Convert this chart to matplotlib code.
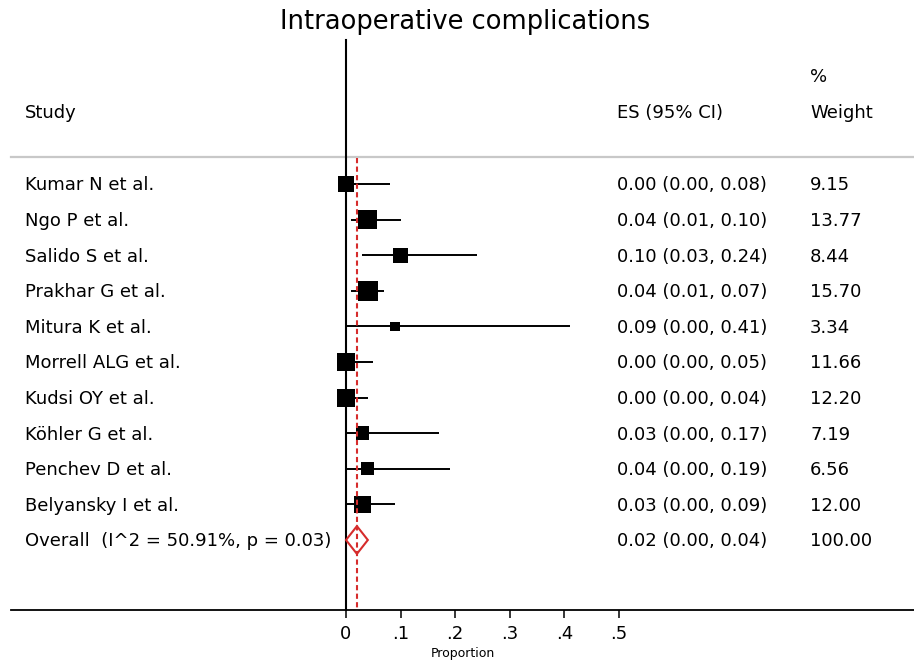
import numpy as np
import matplotlib
matplotlib.use('Agg')
import matplotlib.pyplot as plt
from matplotlib.patches import Polygon

studies = ['Kumar N et al.', 'Ngo P et al.', 'Salido S et al.', 'Prakhar G et al.',
           'Mitura K et al.', 'Morrell ALG et al.', 'Kudsi OY et al.', 'Köhler G et al.',
           'Penchev D et al.', 'Belyansky I et al.']
es = [0.00, 0.04, 0.10, 0.04, 0.09, 0.00, 0.00, 0.03, 0.04, 0.03]
ci_low = [0.00, 0.01, 0.03, 0.01, 0.00, 0.00, 0.00, 0.00, 0.00, 0.00]
ci_high = [0.08, 0.10, 0.24, 0.07, 0.41, 0.05, 0.04, 0.17, 0.19, 0.09]
weights = [9.15, 13.77, 8.44, 15.70, 3.34, 11.66, 12.20, 7.19, 6.56, 12.00]

overall_label = 'Overall  (I^2 = 50.91%, p = 0.03)'
overall_es, overall_low, overall_high, overall_weight = 0.02, 0.00, 0.04, 100.00

xticks = [0, 0.1, 0.2, 0.3, 0.4, 0.5]
xtick_labels = ['0', '.1', '.2', '.3', '.4', '.5']

red = '#d62c2c'
fs = 13

fig = plt.figure(figsize=(9.14, 6.63), dpi=100)
ax = fig.add_axes([0, 0, 1, 1])
ax.set_xlim(-346 / 546, (914 - 346) / 546)
ax.set_ylim((663 - 184) / 35.6, -184 / 35.6)
ax.patch.set_visible(False)

rows = np.arange(len(studies))
overall_row = len(studies)
bottom_row = (610 - 184) / 35.6
header_row = (157 - 184) / 35.6

for s in ['top', 'left', 'right']:
    ax.spines[s].set_visible(False)
ax.spines['bottom'].set_position(('data', bottom_row))
ax.spines['bottom'].set_bounds(-0.613, 1.04)
ax.spines['bottom'].set_linewidth(1.3)
ax.set_yticks([])
ax.set_xticks(xticks, xtick_labels)
ax.tick_params(axis='x', direction='out', length=6, width=1.1, pad=5, labelsize=13)

# header separator
ax.plot([-0.613, 1.04], [header_row, header_row], color='#c8c8c8', lw=1.6)

# null line and overall line
ax.plot([0, 0], [(40 - 184) / 35.6, bottom_row], color='black', lw=1.5)
ax.plot([overall_es, overall_es], [header_row + 0.03, bottom_row], color=red, lw=1.5,
        dashes=(2.5, 1.6), zorder=4)

# study CIs and boxes
ax.hlines(rows, ci_low, ci_high, color='black', lw=1.4)
side_pt = 5.12 * np.sqrt(weights) * 0.72
ax.scatter(es, rows, s=side_pt ** 2, marker='s', color='black', linewidths=0, zorder=3)

# overall diamond
h = 0.39
ax.add_patch(Polygon([[overall_low, overall_row], [overall_es, overall_row - h],
                      [overall_high, overall_row], [overall_es, overall_row + h]],
                     closed=True, facecolor='none', edgecolor=red, lw=1.5, zorder=5))

# text columns
tr = ax.get_yaxis_transform()
x_study, x_es, x_w = 25 / 914, 617 / 914, 810 / 914
hdr_row = (113 - 184) / 35.6
ax.text(x_study, hdr_row, 'Study', transform=tr, fontsize=fs, va='center')
ax.text(x_es, hdr_row, 'ES (95% CI)', transform=tr, fontsize=fs, va='center')
ax.text(x_w, hdr_row, 'Weight', transform=tr, fontsize=fs, va='center')
ax.text(x_w, (77 - 184) / 35.6, '%', transform=tr, fontsize=fs, va='center')

for i, name in enumerate(studies):
    ax.text(x_study, rows[i] + 0.04, name, transform=tr, fontsize=fs, va='center')
    ax.text(x_es, rows[i] + 0.04, f'{es[i]:.2f} ({ci_low[i]:.2f}, {ci_high[i]:.2f})',
            transform=tr, fontsize=fs, va='center')
    ax.text(x_w, rows[i] + 0.04, f'{weights[i]:.2f}', transform=tr, fontsize=fs, va='center')

ax.text(x_study, overall_row + 0.04, overall_label, transform=tr, fontsize=fs, va='center')
ax.text(x_es, overall_row + 0.04, f'{overall_es:.2f} ({overall_low:.2f}, {overall_high:.2f})',
        transform=tr, fontsize=fs, va='center')
ax.text(x_w, overall_row + 0.04, f'{overall_weight:.2f}', transform=tr, fontsize=fs, va='center')

ax.text(0.214, (653 - 184) / 35.6, 'Proportion', fontsize=9, ha='center', va='center')
fig.text(465 / 914, 1 - 22 / 663, 'Intraoperative complications', fontsize=18.5,
         ha='center', va='center')

fig.savefig('out.png', dpi=100)
